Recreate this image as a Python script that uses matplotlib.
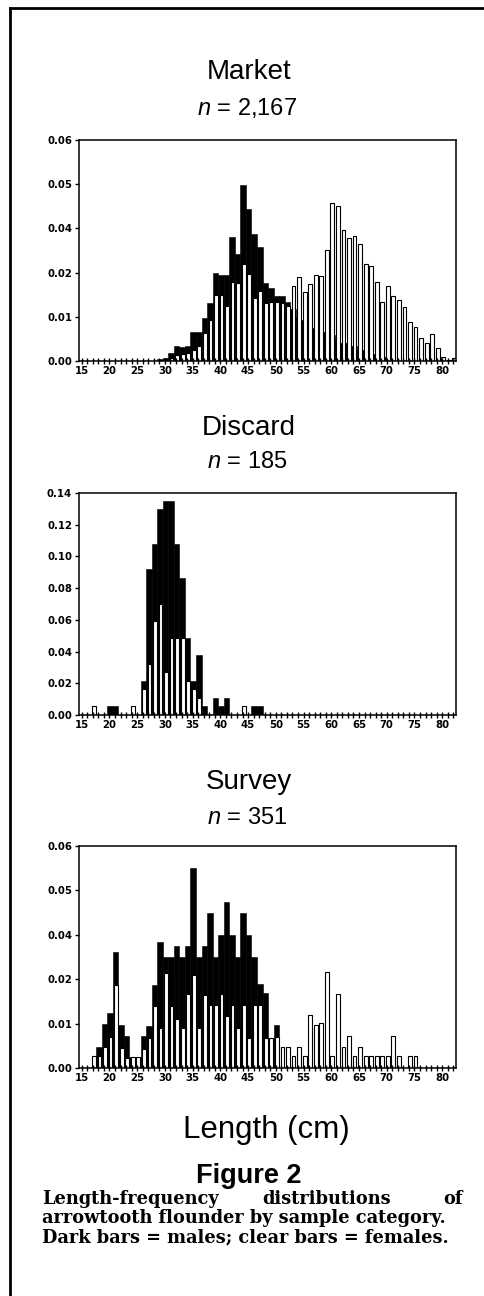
import numpy as np
import matplotlib
matplotlib.use("Agg")
from matplotlib import pyplot as plt
from matplotlib.lines import Line2D

plt.rcParams['mathtext.fontset'] = 'custom'
plt.rcParams['mathtext.it'] = 'Liberation Sans:italic'
plt.rcParams['mathtext.rm'] = 'Liberation Sans'

lengths = list(range(15, 83))

# proportions (axis units), one value per cm from 15 to 82
# rows: 15-24, 25-34, 35-44, 45-54, 55-64, 65-74, 75-82
market_male = [0, 0, 0, 0, 0, 0, 0, 0, 0, 0,
               0, 0, 0, 0, 0.0005, 0.0007, 0.0023, 0.0041, 0.0039, 0.0041,
               0.0080, 0.0080, 0.0116, 0.0158, 0.0238, 0.0233, 0.0233, 0.0338, 0.0291, 0.0478,
               0.0412, 0.0345, 0.0310, 0.0213, 0.0199, 0.0176, 0.0176, 0.0161, 0.0140, 0.0120,
               0.0110, 0.0100, 0.0090, 0.0080, 0.0080, 0.0070, 0.0060, 0.0050, 0.0050, 0.0040,
               0.0030, 0.0030, 0.0020, 0.0020, 0.0010, 0.0010, 0, 0, 0, 0,
               0, 0, 0, 0, 0, 0, 0, 0]
market_female = [0, 0, 0, 0, 0, 0, 0, 0, 0, 0,
                 0, 0, 0, 0, 0, 0, 0.0008, 0.0015, 0.0018, 0.0022,
                 0.0030, 0.0040, 0.0075, 0.0110, 0.0179, 0.0179, 0.0149, 0.0215, 0.0211, 0.0263,
                 0.0236, 0.0170, 0.0191, 0.0158, 0.0161, 0.0161, 0.0158, 0.0149, 0.0204, 0.0227,
                 0.0186, 0.0208, 0.0233, 0.0231, 0.0301, 0.0428, 0.0421, 0.0356, 0.0333, 0.0339,
                 0.0319, 0.0263, 0.0258, 0.0215, 0.0161, 0.0204, 0.0176, 0.0166, 0.0147, 0.0107,
                 0.0093, 0.0063, 0.0050, 0.0073, 0.0036, 0.0012, 0.0004, 0.0008]

discard_male = [0, 0, 0, 0, 0, 0.0054, 0.0054, 0, 0, 0,
                0, 0.0216, 0.0919, 0.1081, 0.1297, 0.1351, 0.1351, 0.1081, 0.0865, 0.0486,
                0.0216, 0.0378, 0.0054, 0, 0.0108, 0.0054, 0.0108, 0, 0, 0,
                0, 0.0054, 0.0054, 0, 0, 0, 0, 0, 0, 0,
                0, 0, 0, 0, 0, 0, 0, 0, 0, 0,
                0, 0, 0, 0, 0, 0, 0, 0, 0, 0,
                0, 0, 0, 0, 0, 0, 0, 0]
discard_female = [0, 0, 0.0054, 0, 0, 0, 0, 0, 0, 0.0054,
                  0, 0.0162, 0.0324, 0.0595, 0.0703, 0.0270, 0.0486, 0.0486, 0.0486, 0.0216,
                  0.0162, 0.0108, 0, 0, 0, 0, 0, 0, 0, 0.0054,
                  0, 0, 0, 0, 0, 0, 0, 0, 0, 0,
                  0, 0, 0, 0, 0, 0, 0, 0, 0, 0,
                  0, 0, 0, 0, 0, 0, 0, 0, 0, 0,
                  0, 0, 0, 0, 0, 0, 0, 0]

survey_male = [0, 0, 0, 0.0057, 0.0120, 0.0149, 0.0313, 0.0117, 0.0086, 0.0030,
               0.0030, 0.0086, 0.0114, 0.0225, 0.0340, 0.0300, 0.0300, 0.0330, 0.0300, 0.0330,
               0.0540, 0.0300, 0.0330, 0.0420, 0.0300, 0.0360, 0.0450, 0.0360, 0.0300, 0.0420,
               0.0360, 0.0300, 0.0228, 0.0203, 0.0080, 0.0117, 0, 0, 0, 0,
               0, 0, 0, 0, 0, 0, 0, 0, 0, 0,
               0, 0, 0, 0, 0, 0, 0, 0, 0, 0,
               0, 0, 0, 0, 0, 0, 0, 0]
survey_female = [0, 0, 0.0032, 0.0032, 0.0057, 0.0084, 0.0224, 0.0054, 0.0027, 0.0030,
                 0.0030, 0.0051, 0.0081, 0.0167, 0.0108, 0.0257, 0.0168, 0.0132, 0.0108, 0.0200,
                 0.0252, 0.0108, 0.0198, 0.0171, 0.0171, 0.0200, 0.0140, 0.0171, 0.0108, 0.0171,
                 0.0081, 0.0171, 0.0171, 0.0081, 0.0081, 0.0084, 0.0057, 0.0057, 0.0032, 0.0057,
                 0.0032, 0.0144, 0.0117, 0.0122, 0.0259, 0.0032, 0.0200, 0.0057, 0.0087, 0.0032,
                 0.0057, 0.0032, 0.0032, 0.0032, 0.0032, 0.0032, 0.0087, 0.0032, 0, 0.0032,
                 0.0032, 0, 0, 0, 0, 0, 0, 0]

titles = ["Market", "Discard", "Survey"]
counts = ["2,167", "185", "351"]
x_ticks = [15, 20, 25, 30, 35, 40, 45, 50, 55, 60, 65, 70, 75, 80]
y_labels_six = ['0.00', '0.01', '0.02', '0.04', '0.05', '0.06']
y_labels_discard = ['0.00', '0.02', '0.04', '0.06', '0.08', '0.10', '0.12', '0.14']

W, H = 484, 1296
fig = plt.figure(figsize=(W / 100, H / 100), dpi=100)

def fy(y):
    return 1 - y / H

def fx(x):
    return x / W

def panel(top, bottom, male, female, ymax, yticks, ylabels):
    ax = fig.add_axes([fx(79), fy(bottom), fx(456) - fx(79), (bottom - top) / H])
    xs = np.array(lengths)
    ax.bar(xs + 0.1, male, width=1.0, color='black', edgecolor='black', linewidth=0.4)
    ax.bar(xs + 0.2, female, width=0.68, color='white', edgecolor='black', linewidth=0.8)
    ax.set_xlim(14.5, 82.5)
    ax.set_ylim(0, ymax)
    ax.set_xticks(x_ticks)
    ax.set_xticks(lengths, minor=True)
    ax.set_yticks(yticks)
    ax.set_yticklabels(ylabels)
    ax.tick_params(axis='x', which='major', direction='inout', length=5, width=1, pad=1)
    ax.tick_params(axis='x', which='minor', direction='inout', length=4, width=1)
    ax.tick_params(axis='y', direction='out', length=3, width=1, pad=2)
    for lab in ax.get_xticklabels() + ax.get_yticklabels():
        lab.set_fontfamily('DejaVu Sans')
        lab.set_fontweight('bold')
        lab.set_fontsize(7.3)
    for s in ax.spines.values():
        s.set_linewidth(1.1)
    return ax

panel(140, 361, market_male, market_female, 0.06, np.linspace(0, 0.06, 6), y_labels_six)
panel(493, 715, discard_male, discard_female, 0.14, np.linspace(0, 0.14, 8), y_labels_discard)
panel(846, 1068, survey_male, survey_female, 0.06, np.linspace(0, 0.06, 6), y_labels_six)

title_y = [(72, 108), (428, 462), (782, 818)]
for (ty, ny), t, n in zip(title_y, titles, counts):
    fig.text(fx(249), fy(ty), t, ha='center', va='center', fontsize=20, family='Liberation Sans')
    fig.text(fx(247), fy(ny), '$n$ = ' + n, ha='center', va='center', fontsize=17,
             family='Liberation Sans')

fig.text(fx(266), fy(1130), 'Length (cm)', ha='center', va='center', fontsize=22.5,
         family='Liberation Sans')
fig.text(fx(249), fy(1176), 'Figure 2', ha='center', va='center', fontsize=19.5,
         family='Liberation Sans', fontweight='bold')

cap = dict(family='DejaVu Serif', fontweight='bold', fontsize=12.8, va='baseline')
fig.text(fx(42), fy(1204), 'Length-frequency', ha='left', **cap)
fig.text(fx(262), fy(1204), 'distributions', ha='left', **cap)
fig.text(fx(463), fy(1204), 'of', ha='right', **cap)
fig.text(fx(42), fy(1223), 'arrowtooth flounder by sample category.', ha='left', **cap)
fig.text(fx(42), fy(1242), 'Dark bars = males; clear bars = females.', ha='left', **cap)

# frame of the figure box
fig.add_artist(Line2D([fx(10), fx(10)], [fy(8), 0], color='black', linewidth=2))
fig.add_artist(Line2D([fx(10), 1], [fy(8), fy(8)], color='black', linewidth=2))

fig.savefig('out.png', dpi=100)
